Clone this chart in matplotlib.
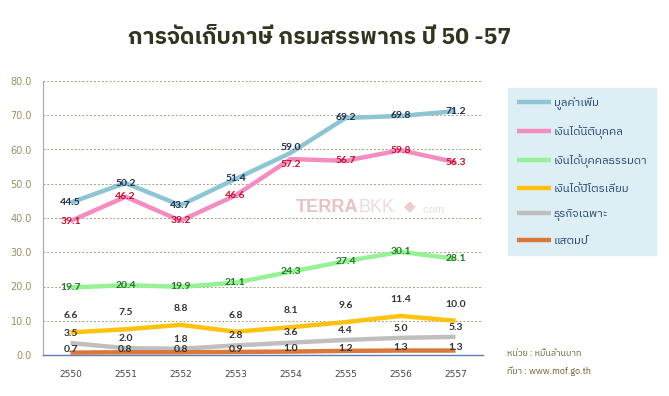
import matplotlib
matplotlib.use("Agg")
import matplotlib.pyplot as plt
from matplotlib import font_manager, ft2font

# ---------------- data ----------------
years = ["2550", "2551", "2552", "2553", "2554", "2555", "2556", "2557"]
vat = [44.5, 50.2, 43.7, 51.4, 59.0, 69.2, 69.8, 71.2]
corporate = [39.1, 46.2, 39.2, 46.6, 57.2, 56.7, 59.8, 56.3]
personal = [19.7, 20.4, 19.9, 21.1, 24.3, 27.4, 30.1, 28.1]
petroleum = [6.6, 7.5, 8.8, 6.8, 8.1, 9.6, 11.4, 10.0]
specific = [3.5, 2.0, 1.8, 2.8, 3.6, 4.4, 5.0, 5.3]
stamp = [0.7, 0.8, 0.8, 0.9, 1.0, 1.2, 1.3, 1.3]
series_names = ["มูลค่าเพิ่ม", "เงินได้นิติบุคคล", "เงินได้บุคคลธรรมดา",
                "เงินได้ปิโตรเลียม", "ธุรกิจเฉพาะ", "แสตมป์"]
title = "การจัดเก็บภาษี กรมสรรพากร ปี 50 -57"
unit_note = "หน่วย : หมื่นล้านบาท"
source_note = "ที่มา : www.mof.go.th"
yticks = [0, 10, 20, 30, 40, 50, 60, 70, 80]


def find_thai_font():
    preferred = []
    others = []
    for f in font_manager.fontManager.ttflist:
        try:
            ft = ft2font.FT2Font(f.fname)
            if ft.get_char_index(0x0E01):
                if "sans" in f.name.lower() or "thai" in f.name.lower():
                    preferred.append(f.name)
                else:
                    others.append(f.name)
        except Exception:
            pass
    for lst in (preferred, others):
        if lst:
            return lst[0]
    return None


thai = find_thai_font()
thai_family = [thai, "DejaVu Sans"] if thai else ["DejaVu Sans"]

W, H = 669, 396
fig = plt.figure(figsize=(W / 100, H / 100), dpi=100)
fig.patch.set_facecolor("white")
L, R, T, B = 43, 483, 81, 355
ax = fig.add_axes([L / W, 1 - B / H, (R - L) / W, (B - T) / H])

x = list(range(len(years)))
styles = [
    (vat, "#8EC5D3", "#1F2D4D", 0),
    (corporate, "#F48DBF", "#C8102E", 0),
    (personal, "#96F296", "#1E7A1E", 0),
    (petroleum, "#FFC20E", "#333333", 12),
    (specific, "#BFBFBF", "#333333", 7),
    (stamp, "#D9783A", "#333333", 2),
]
# small label nudges (series index, point index) -> extra offset in points
nudges = {(0, 4): 4, (1, 4): -4}
handles = []
for si, ((vals, col, tcol, off), name) in enumerate(zip(styles, series_names)):
    ln, = ax.plot(x, vals, color=col, lw=3.2, solid_capstyle="butt",
                  solid_joinstyle="round", label=name, zorder=3)
    handles.append(ln)
    for xi, v in zip(x, vals):
        dy = off + nudges.get((si, xi), 0)
        ax.annotate(f"{v:.1f}", (xi, v), xytext=(0, dy), textcoords="offset points",
                    ha="center", va="center", fontsize=7.5, color=tcol,
                    fontweight="bold", family=["Lato", "DejaVu Sans"], zorder=5)

ax.set_xlim(-0.5, len(years) - 0.5)
ax.set_ylim(0, 80)
ax.set_yticks(yticks)
ax.set_yticklabels([f"{t:.1f}" for t in yticks])
ax.set_xticks(x)
ax.set_xticklabels(years)
ax.tick_params(axis="y", length=0, pad=8, labelsize=7, labelcolor="#9A8F62")
ax.tick_params(axis="x", length=0, pad=11, labelsize=6.5, labelcolor="#444444")
for t in yticks[1:]:
    ax.axhline(t, color="#A89F80", lw=0.7, ls=(0, (2, 2)), zorder=1)
for s in ("top", "right"):
    ax.spines[s].set_visible(False)
ax.spines["left"].set_color("#A8A8A8")
ax.spines["bottom"].set_color("#5B7DB5")
ax.spines["bottom"].set_linewidth(1.0)
ax.set_facecolor("white")

# watermark
wy = 1 - (207 - T) / (B - T)
ax.text((358 - L) / (R - L), wy, "TERRA", transform=ax.transAxes, fontsize=13,
        color="#E6C2C2", ha="right", va="center", zorder=0,
        family=["Liberation Sans", "DejaVu Sans"], fontweight="bold")
ax.text((358 - L) / (R - L), wy, "BKK", transform=ax.transAxes, fontsize=13,
        color="#EBDADA", ha="left", va="center", zorder=0,
        family=["Liberation Sans", "DejaVu Sans"])
ax.text((404 - L) / (R - L), wy, "\u25c6", transform=ax.transAxes, fontsize=11,
        color="#EBCFCF", ha="left", va="center", zorder=0)
ax.text((420 - L) / (R - L), wy - 0.01, ".com", transform=ax.transAxes, fontsize=8,
        color="#E8DCDC", ha="left", va="center", zorder=0,
        family=["Liberation Sans", "DejaVu Sans"])

# title
fig.text(0.478, 1 - 38 / H, title, ha="center", va="center", fontsize=16.5,
         color="#33331F", family=thai_family, fontweight="bold")

# legend
leg = fig.legend(handles=handles, loc="upper left",
                 bbox_to_anchor=(508 / W, 1 - 88 / H), borderaxespad=0,
                 frameon=True, facecolor="#DDEEF5", edgecolor="#DDEEF5",
                 fancybox=False, handlelength=3.0, handletextpad=0.2,
                 labelspacing=1.35, borderpad=0.8,
                 prop={"family": thai_family, "size": 8.2})
for t in leg.get_texts():
    t.set_color("#1F3F6F")
leg.get_frame().set_alpha(1)

fig.text(507 / W, 1 - 353 / H, unit_note, fontsize=6.5, color="#6E5E2E",
         family=thai_family, va="center", ha="left")
fig.text(507 / W, 1 - 371 / H, source_note, fontsize=6.5, color="#6E5E2E",
         family=thai_family, va="center", ha="left")

fig.savefig("out.png", dpi=100)
